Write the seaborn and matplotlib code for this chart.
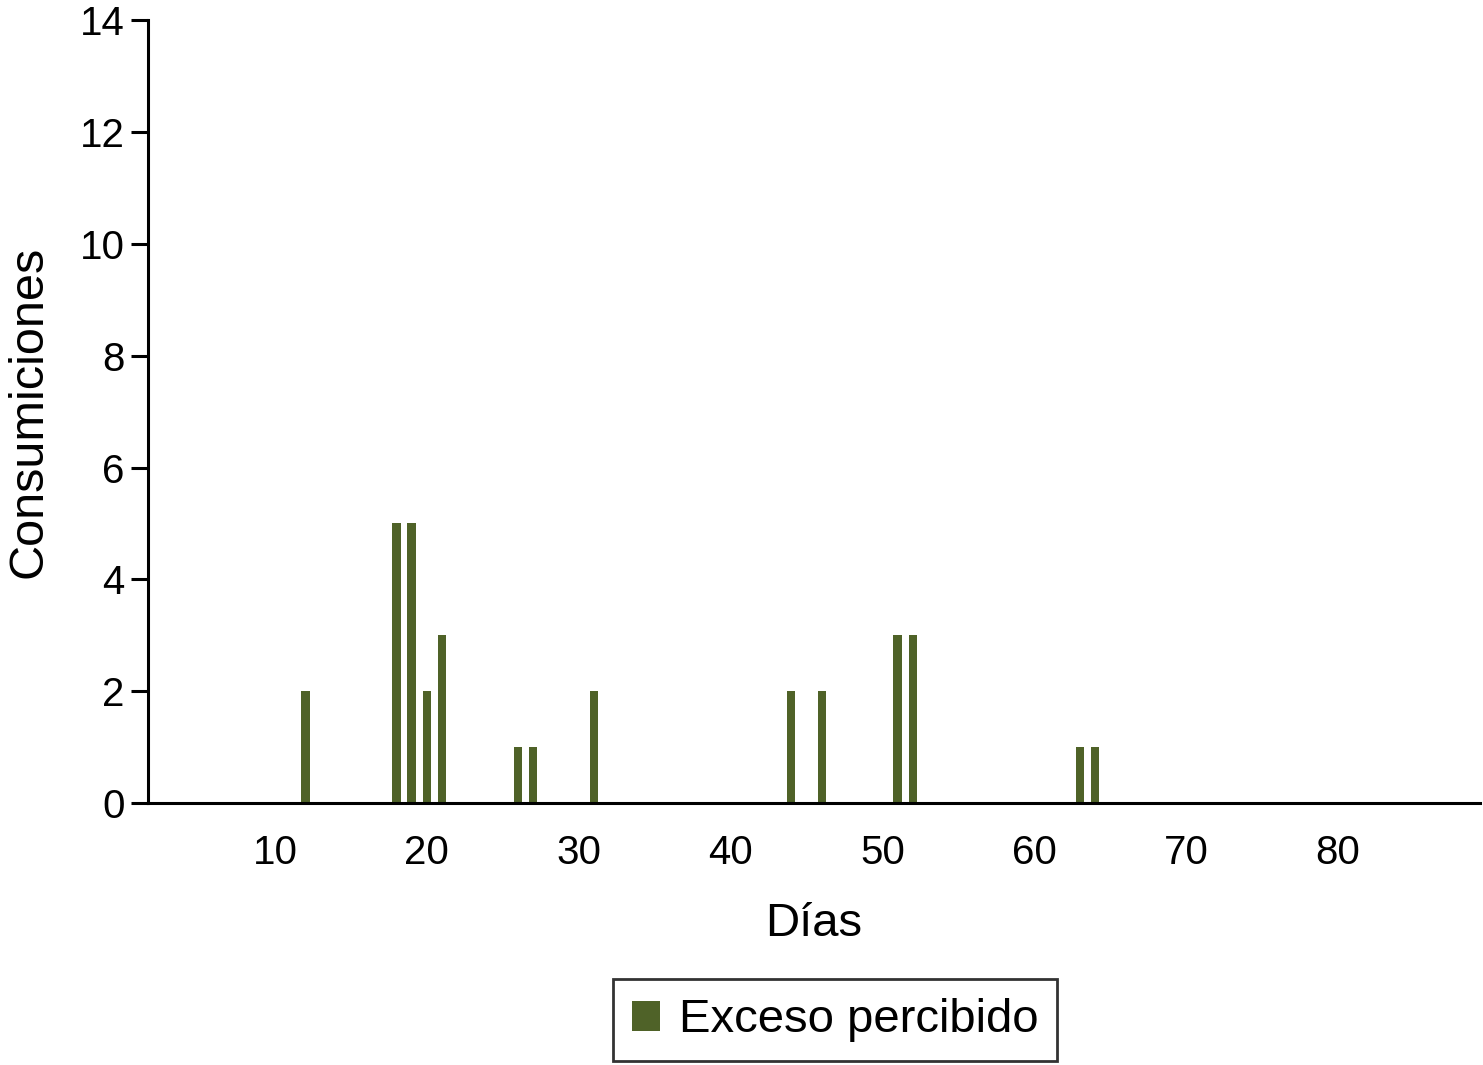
import matplotlib
matplotlib.use('Agg')
import matplotlib.pyplot as plt
import seaborn as sns
import pandas as pd

# Days with perceived excess and number of drinks
dias = [12, 18, 19, 20, 21, 26, 27, 31, 44, 46, 51, 52, 63, 64]
consumiciones = [2, 5, 5, 2, 3, 1, 1, 2, 2, 2, 3, 3, 1, 1]
x_ticks = [10, 20, 30, 40, 50, 60, 70, 80]
y_ticks = [0, 2, 4, 6, 8, 10, 12, 14]
serie = 'Exceso percibido'
color = '#4f6228'

sns.set_style('white')
plt.rcParams['font.family'] = ['Liberation Sans', 'DejaVu Sans']
plt.rcParams['text.color'] = 'black'
plt.rcParams['axes.labelcolor'] = 'black'
plt.rcParams['xtick.color'] = 'black'
plt.rcParams['ytick.color'] = 'black'

df = pd.DataFrame({'dia': dias, 'n': consumiciones})

fig = plt.figure(figsize=(14.83, 10.65), dpi=100)
ax = fig.add_axes([0.0998, 0.246, 0.8982, 0.735])

sns.barplot(data=df, x='dia', y='n', native_scale=True, width=0.55,
            color=color, saturation=1, label=serie, ax=ax, linewidth=0)

ax.set_xlim(1.64, 89.35)
ax.set_ylim(0, 14)
ax.set_xticks(x_ticks)
ax.set_yticks(y_ticks)
ax.tick_params(axis='x', length=0, labelsize=29, pad=22)
ax.tick_params(axis='y', length=12, width=2.2, labelsize=29, pad=5, direction='out', left=True)
for s in ['top', 'right']:
    ax.spines[s].set_visible(False)
for s in ['left', 'bottom']:
    ax.spines[s].set_linewidth(2.2)
    ax.spines[s].set_color('black')

ax.set_xlabel('Días', fontsize=34, labelpad=22)
ax.set_ylabel('Consumiciones', fontsize=35, labelpad=20)

if ax.legend_:
    ax.legend_.remove()
h, l = ax.get_legend_handles_labels()
leg = fig.legend(h, l, loc='center', bbox_to_anchor=(0.563, 0.042), fontsize=34,
                 frameon=True, fancybox=False, handlelength=0.6, handleheight=0.6,
                 handletextpad=0.4, borderpad=0.4, borderaxespad=0)
leg.get_frame().set_edgecolor('black')
leg.get_frame().set_linewidth(2)

fig.savefig('out.png', dpi=100)
